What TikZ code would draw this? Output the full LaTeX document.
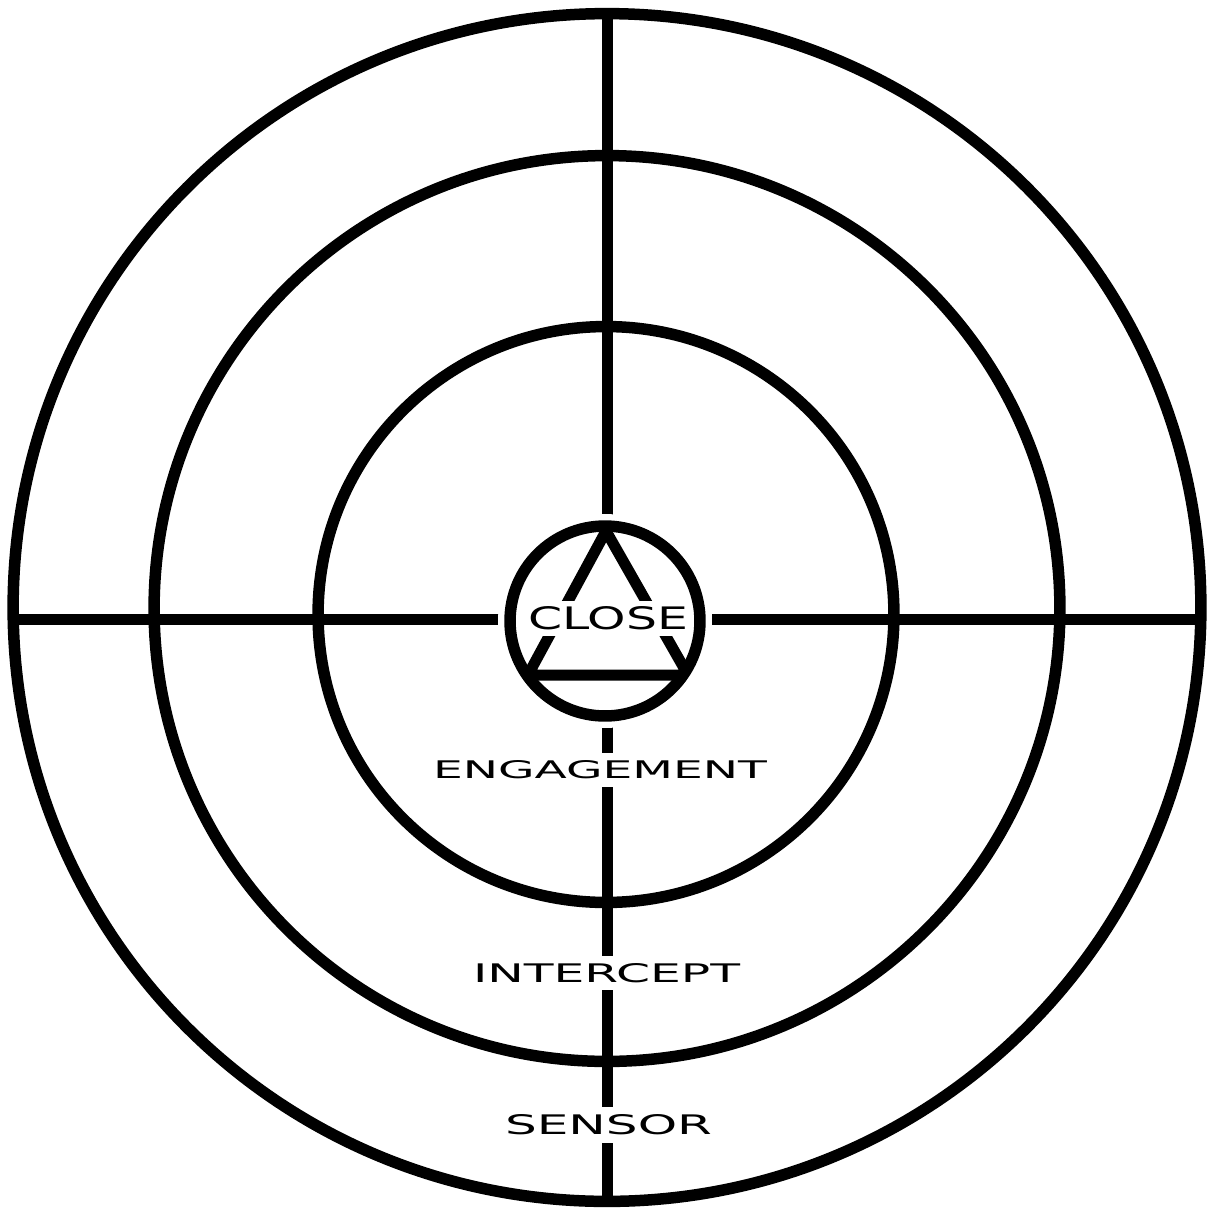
\documentclass[tikz,border=0pt]{standalone}
\usepackage{fontspec}
\usepackage{graphicx}
\newfontfamily\hud{DejaVu Sans}
\begin{document}
\begin{tikzpicture}[x=0.02cm, y=-0.02cm,
  ring/.style={circle, draw=black, line width=0.23cm, inner sep=0pt},
  hair/.style={draw=black, line width=0.22cm, line cap=butt},
  halo/.style={circle, fill=white, inner sep=0pt},
  tri/.style={draw=black, line width=0.22cm, line join=miter},
  lbl/.style={fill=white, inner xsep=0.05cm, inner ysep=0.15cm}]
\useasboundingbox[fill=white] (0,0) rectangle (1210,1207);
% rings
\node[ring, minimum size=23.76cm] (outer) at (607,607.5) {};
\node[ring, minimum size=18.12cm] (mid) at (607,608.5) {};
\node[ring, minimum size=11.52cm] (inner) at (606,614.5) {};
% crosshair
\coordinate (ht) at (607.5,13);
\coordinate (hb) at (607.5,1202);
\coordinate (hl) at (12,619.5);
\coordinate (hr) at (1202,619.5);
\draw[hair] (ht) -- (hb);
\draw[hair] (hl) -- (hr);
% core
\node[halo, minimum size=4.28cm] (gap) at (605,621) {};
\coordinate (apex) at (606,531);
\coordinate (bl) at (528,675);
\coordinate (br) at (688,675);
\begin{scope}
  \clip (605,621) circle[radius=1.99cm];
  \draw[tri] (apex) -- (bl) -- (br) -- cycle;
\end{scope}
\node[ring, minimum size=3.8cm] (core) at (605,621) {};
% labels
\node[lbl, inner ysep=0.11cm, inner xsep=0.03cm] (close) at (608,618.5) {\resizebox{3.2cm}{0.46cm}{\hud CLOSE}};
\node[lbl] (engagement) at (600,770) {\resizebox{6.68cm}{0.36cm}{\hud ENGAGEMENT}};
\node[lbl] (intercept) at (606.5,973) {\resizebox{5.34cm}{0.38cm}{\hud INTERCEPT}};
\node[lbl] (sensor) at (608.5,1125) {\resizebox{4.14cm}{0.40cm}{\hud SENSOR}};
\end{tikzpicture}
\end{document}
